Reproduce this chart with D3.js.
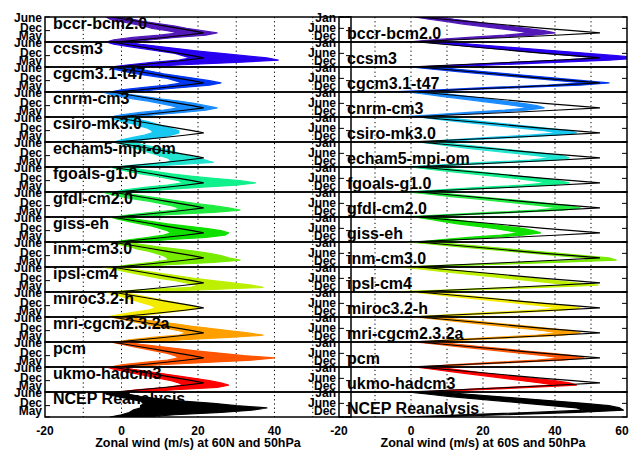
<!DOCTYPE html>
<html><head><meta charset="utf-8">
<script src="https://cdn.jsdelivr.net/npm/d3@7"></script>
<style>
body{margin:0;background:#fff}
text{font-family:"Liberation Sans",Arial,Helvetica,sans-serif;font-weight:bold;fill:#000}
</style>
</head><body>
<svg id="chart" width="632" height="450"></svg>
<script>
// ---------------- data ----------------
const models = ["bccr-bcm2.0","ccsm3","cgcm3.1-t47","cnrm-cm3","csiro-mk3.0","echam5-mpi-om",
  "fgoals-g1.0","gfdl-cm2.0","giss-eh","inm-cm3.0","ipsl-cm4","miroc3.2-h","mri-cgcm2.3.2a",
  "pcm","ukmo-hadcm3","NCEP Reanalysis"];
const colors = ["#5218b8","#2800f0","#0036f2","#1a8cff","#18c8f0","#20e4d0","#10f08c","#20ec40",
  "#10e000","#78ec00","#bcf000","#f4ec00","#ffa000","#ff5400","#ff0000","#000000"];

// month order NH: Jun..May ; SH: Jan..Dec
const nhMonths = ["Jun","Jul","Aug","Sep","Oct","Nov","Dec","Jan","Feb","Mar","Apr","May"];
const shMonths = ["Jan","Feb","Mar","Apr","May","Jun","Jul","Aug","Sep","Oct","Nov","Dec"];
const nhTickValues = [0, 6, 11];
const nhTickLabels = ["June","Dec","May"];
const shTickValues = [0, 5, 11];
const shTickLabels = ["Jan","June","Dec"];
const nhXTicks = [-20, 0, 20, 40];
const shXTicks = [-20, 0, 20, 40, 60];
const gridValues = [-10, 0, 10, 20, 30, 40, 50];

// NCEP climatology (black reference line in every model row)
const ncepClimNH = [-2.5, 1, 4.5, 8, 11.5, 15, 18.5, 21.5, 16.5, 11, 5, -1.5];
const ncepClimSH = [2, 9, 16, 23, 30, 37, 45, 52.5, 40, 27, 13, -1];

// spread of individual years (low / high envelope), 60N 50hPa, Jun..May
const nhLo = [
  [-4,-3,0,3,6,8,12,15,10,3,-2,-4],
  [-4,-2,2,6,10,14,16,18,15,8,2,-3],
  [-3,-2,1,4,8,12,14,16,12,6,0,-3],
  [-5,-3,0,3,7,10,13,15,11,5,0,-3],
  [-3,-2,0,3,5,7,8,8,6,3,0,-2],
  [-2,0,2,4,6,8,10,12,13,12,4,-2],
  [-3,-1,2,5,9,12,15,16,12,6,1,-2],
  [-5,-3,0,3,7,10,13,15,14,8,2,-2],
  [-3,-1,2,5,8,10,12,13,11,7,2,-2],
  [-3,-1,2,4,7,9,11,12,12,8,2,-2],
  [-5,-2,1,4,7,10,14,17,20,18,5,-4],
  [-4,-2,0,2,4,6,8,9,7,3,-1,-4],
  [-3,0,3,6,9,12,15,17,15,8,2,-1],
  [-3,0,3,6,9,12,14,15,12,6,0,-3],
  [-4,-2,1,4,7,10,13,15,16,12,4,-1],
  [-4,-4,-1,2,5,6,5,5,3,2,0,-3]
];
const nhHi = [
  [0,3,6,10,14,17,21,25,22,14,8,2],
  [1,5,10,15,20,26,32,38,41,30,16,5],
  [4,5,8,11,15,19,23,26,23,16,9,3],
  [-1,2,6,10,15,19,22,25,22,16,9,3],
  [3,4,7,9,11,13,15,15,13,10,6,3],
  [4,5,8,11,13,15,17,20,22,24,14,4],
  [2,5,9,13,18,24,31,35,30,20,11,5],
  [0,3,7,11,15,19,24,28,31,24,12,3],
  [1,4,8,12,17,22,26,28,27,22,12,5],
  [1,5,9,14,19,23,26,28,31,24,12,5],
  [-1,3,7,11,15,19,24,29,34,37,22,3],
  [0,3,6,9,12,15,18,20,17,12,7,3],
  [1,5,9,14,18,23,28,33,37,28,16,8],
  [1,5,10,15,20,26,32,40,34,22,10,3],
  [0,3,7,11,15,19,23,26,28,25,14,6],
  [2,2,5,10,16,24,30,38,34,26,14,6]
];
// 60S 50hPa, Jan..Dec
const shLo = [
  [1,5,10,14,19,24,29,33,26,16,6,-1],
  [3,10,17,24,31,38,45,52,42,28,14,1],
  [0,6,13,20,27,34,41,48,38,22,8,-7],
  [-1,4,9,14,19,24,29,33,26,16,6,-4],
  [2,7,13,19,25,31,37,41,33,22,11,3],
  [2,7,12,17,23,29,35,39,33,20,8,-2],
  [0,5,11,17,23,29,34,38,31,19,8,-1],
  [-1,5,11,18,24,30,36,41,35,22,9,-3],
  [1,5,9,13,18,23,27,30,25,16,8,2],
  [-1,6,13,20,27,34,41,48,49,32,13,-4],
  [-3,3,9,15,21,27,33,39,45,29,11,-7],
  [0,6,12,18,24,30,36,41,35,23,10,0],
  [1,7,13,19,25,31,37,41,35,23,11,2],
  [1,7,13,19,25,31,37,42,35,23,11,2],
  [1,6,11,16,21,26,31,36,40,27,13,2],
  [-1,5,11,18,25,32,39,46,48,34,14,-2]
];
const shHi = [
  [8,12,17,22,27,32,37,40,34,23,12,3],
  [10,17,25,33,41,49,57,64,55,40,24,8],
  [7,13,20,27,34,41,48,55,47,31,15,0],
  [6,11,16,21,26,31,35,37,32,22,11,1],
  [9,14,20,26,32,38,44,46,40,29,17,8],
  [8,13,19,25,31,37,42,44,40,27,14,3],
  [6,12,18,24,30,36,41,44,38,26,14,4],
  [6,12,18,25,32,38,44,47,42,29,15,3],
  [7,11,16,21,26,31,34,36,31,22,13,6],
  [6,13,20,27,34,41,48,55,57,40,20,2],
  [4,10,16,22,28,34,40,46,52,36,18,-1],
  [6,12,18,24,30,37,43,47,42,30,17,5],
  [7,13,19,25,32,38,44,47,42,30,17,7],
  [7,13,19,26,32,39,45,48,42,29,16,6],
  [7,12,17,22,28,34,40,44,46,33,19,6],
  [8,16,24,32,40,48,55,58,59,46,26,5]
];

// ---------------- drawing ----------------
const svg = d3.select("#chart");
const W = 632;
const TOP = 17, ROWH = 25, NROW = models.length;
const bottom = TOP + ROWH * NROW;

const panels = [
  {id:"nh", x0:45, x1:351, lo:nhLo, hi:nhHi, clim:ncepClimNH, ticks:nhTickValues, labels:nhTickLabels,
   labelDy:[5,1.5,-2], xTicks:nhXTicks, nameDy:11.8, title:"Zonal wind (m/s) at 60N and 50hPa"},
  {id:"sh", x0:339, x1:627, lo:shLo, hi:shHi, clim:ncepClimSH, ticks:shTickValues, labels:shTickLabels,
   labelDy:[4.5,4,-2], xTicks:shXTicks, nameDy:22.3, title:"Zonal wind (m/s) at 60S and 50hPa"}
];

panels.forEach(p => {
  const x = d3.scaleLinear().domain([-20, 60]).range([p.x0, p.x1]);
  const g = svg.append("g");

  // dotted grid
  g.selectAll("line.grid").data(gridValues).join("line")
    .attr("x1", d => x(d)).attr("x2", d => x(d))
    .attr("y1", TOP).attr("y2", bottom)
    .attr("stroke", "#000").attr("stroke-width", 1).attr("stroke-dasharray", "1.2,3");

  models.forEach((m, i) => {
    const top = TOP + i * ROWH;
    const y = d3.scaleLinear().domain([0, 11]).range([top, top + ROWH]);
    const clipId = `clip-${p.id}-${i}`;
    svg.append("clipPath").attr("id", clipId).append("rect")
      .attr("x", p.x0).attr("y", top).attr("width", p.x1 - p.x0).attr("height", ROWH);
    const rg = g.append("g").attr("clip-path", `url(#${clipId})`);

    const lo = p.lo[i], hi = p.hi[i];
    const area = d3.area().y((d, j) => y(j)).x0((d, j) => x(lo[j])).x1((d, j) => x(hi[j]));
    rg.append("path").datum(lo).attr("d", area)
      .attr("fill", colors[i]).attr("stroke", colors[i]).attr("stroke-width", 1.2)
      .attr("stroke-linejoin", "round");

    if (i < NROW - 1) {
      const line = d3.line().x(d => x(d)).y((d, j) => y(j));
      rg.append("path").datum(p.clim).attr("d", line)
        .attr("fill", "none").attr("stroke", "#000").attr("stroke-width", 1.1);
    }

    // row frame
    g.append("rect").attr("x", p.x0).attr("y", top).attr("width", p.x1 - p.x0).attr("height", ROWH)
      .attr("fill", "none").attr("stroke", "#000").attr("stroke-width", 1.5);

    // inward ticks left and right
    const yt = p.ticks.map(t => y(t));
    g.selectAll(null).data(yt).join("line")
      .attr("x1", p.x0).attr("x2", p.x0 + 5).attr("y1", d => d).attr("y2", d => d)
      .attr("stroke", "#000").attr("stroke-width", 1);
    g.selectAll(null).data(yt).join("line")
      .attr("x1", p.x1).attr("x2", p.x1 - 5).attr("y1", d => d).attr("y2", d => d)
      .attr("stroke", "#000").attr("stroke-width", 1);

    // tick labels
    g.selectAll(null).data(p.labels).join("text")
      .attr("x", p.x0 - 3).attr("y", (d, k) => y(p.ticks[k]) + p.labelDy[k])
      .attr("text-anchor", "end").attr("font-size", "12px")
      .text(d => d);
  });
});

// model names on top of everything
panels.forEach(p => {
  const x = d3.scaleLinear().domain([-20, 60]).range([p.x0, p.x1]);
  svg.append("g").selectAll("text").data(models).join("text")
    .attr("x", x(-20) + 8).attr("y", (d, i) => TOP + i * ROWH + p.nameDy)
    .attr("font-size", "16px").text(d => d);

  // x axis tick labels and title (keep the last label inside the page)
  svg.append("g").selectAll("text").data(p.xTicks).join("text")
    .attr("x", d => Math.min(x(d), W - 10)).attr("y", 435).attr("text-anchor", "middle")
    .attr("font-size", "12px").text(d => d);
  svg.append("text").attr("x", (p.x0 + p.x1) / 2).attr("y", 447)
    .attr("text-anchor", "middle").attr("font-size", "12.5px").text(p.title);
});
</script>
</body></html>
